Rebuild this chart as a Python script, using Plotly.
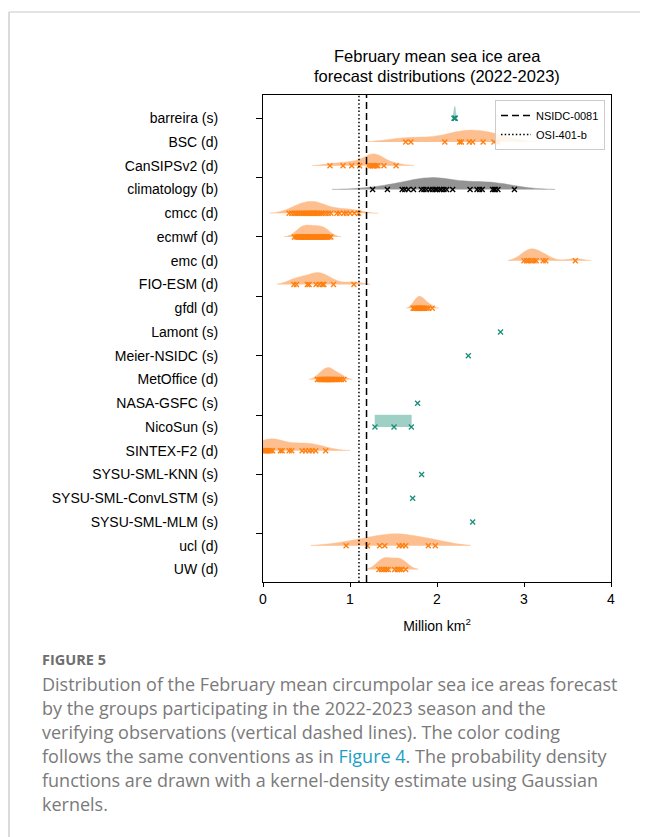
import plotly.graph_objects as go

# ---------------- data ----------------
models = ["barreira (s)", "BSC (d)", "CanSIPSv2 (d)", "climatology (b)", "cmcc (d)",
          "ecmwf (d)", "emc (d)", "FIO-ESM (d)", "gfdl (d)", "Lamont (s)",
          "Meier-NSIDC (s)", "MetOffice (d)", "NASA-GSFC (s)", "NicoSun (s)",
          "SINTEX-F2 (d)", "SYSU-SML-KNN (s)", "SYSU-SML-ConvLSTM (s)",
          "SYSU-SML-MLM (s)", "ucl (d)", "UW (d)"]

barreira = [2.195, 2.205, 2.21]
bsc = [1.64, 1.70, 2.09, 2.26, 2.28, 2.37, 2.41, 2.53, 2.655, 2.70]
cansips = [0.77, 0.92, 1.02, 1.11, 1.21, 1.24, 1.26, 1.27, 1.28, 1.30, 1.32, 1.39, 1.53]
climatology = [1.26, 1.43, 1.60, 1.63, 1.67, 1.73, 1.82, 1.85, 1.88, 1.92, 1.95, 1.98,
               2.00, 2.03, 2.05, 2.08, 2.11, 2.18, 2.38, 2.46, 2.49, 2.52, 2.64, 2.66,
               2.67, 2.70, 2.89]
cmcc = [0.30, 0.33, 0.36, 0.38, 0.40, 0.42, 0.44, 0.46, 0.48, 0.50, 0.51, 0.53, 0.54,
        0.56, 0.57, 0.58, 0.59, 0.60, 0.62, 0.63, 0.65, 0.67, 0.69, 0.72, 0.75, 0.78,
        0.85, 0.88, 0.93, 0.96, 1.00, 1.05, 1.10]
ecmwf = [0.36, 0.38, 0.40, 0.41, 0.42, 0.43, 0.44, 0.45, 0.46, 0.47, 0.48, 0.48, 0.49,
         0.50, 0.51, 0.52, 0.53, 0.54, 0.55, 0.56, 0.57, 0.58, 0.59, 0.60, 0.61, 0.62,
         0.63, 0.64, 0.65, 0.66, 0.67, 0.68, 0.69, 0.70, 0.71, 0.72, 0.73, 0.74, 0.76, 0.78]
emc = [3.00, 3.03, 3.055, 3.085, 3.115, 3.14, 3.22, 3.25, 3.59]
fio_esm = [0.355, 0.385, 0.51, 0.53, 0.61, 0.645, 0.68, 0.70, 0.81, 1.045]
gfdl = [1.725, 1.74, 1.755, 1.77, 1.78, 1.79, 1.80, 1.81, 1.82, 1.83, 1.845, 1.86,
        1.88, 1.905, 1.945]
lamont = [2.73]
meier_nsidc = [2.36]
metoffice = [0.625, 0.645, 0.665, 0.68, 0.695, 0.71, 0.72, 0.73, 0.74, 0.75, 0.76,
             0.77, 0.78, 0.79, 0.80, 0.82, 0.84, 0.86, 0.88, 0.90, 0.93]
nasa_gsfc = [1.777]
nicosun = [1.287, 1.506, 1.705]
sintex_f2 = [0.01, 0.02, 0.03, 0.04, 0.05, 0.07, 0.09, 0.11, 0.20, 0.22, 0.30, 0.33,
             0.45, 0.49, 0.53, 0.565, 0.605, 0.72]
sysu_knn = [1.823]
sysu_convlstm = [1.72]
sysu_mlm = [2.41]
ucl = [0.955, 1.20, 1.34, 1.40, 1.565, 1.60, 1.64, 1.90, 1.98]
uw = [1.333, 1.363, 1.39, 1.417, 1.44, 1.513, 1.544, 1.571, 1.594, 1.64]

values = [barreira, bsc, cansips, climatology, cmcc, ecmwf, emc, fio_esm, gfdl, lamont,
          meier_nsidc, metoffice, nasa_gsfc, nicosun, sintex_f2, sysu_knn,
          sysu_convlstm, sysu_mlm, ucl, uw]

obs_names = ["NSIDC-0081", "OSI-401-b"]
obs_values = [1.19, 1.103]

x_ticks = [0, 1, 2, 3, 4]

# ---------------- styles ----------------
FILL = {"s": "#9fd0c6", "d": "#fdbf8f", "b": "#939393"}
MARK = {"s": "#1a8c7d", "d": "#ff7f0e", "b": "#000000"}
CHART_FONT = "Liberation Sans, Arial, sans-serif"

OFF = 8                      # page body margin
W, H = 648 - OFF, 837 - OFF
PL, PR, PT, PB = 263, 611, 95, 582     # plot box in window pixels
n = len(models)
pos = [n - 1 - i for i in range(n)]          # barreira at top
YR = [-0.53, n - 1 + 0.98]


def pxx(xp):
    return (xp - PL) / (PR - PL)


def pyy(yp):
    return (PB - yp) / (PB - PT)


fig = go.Figure()

for name, vals, p in zip(models, values, pos):
    kind = name[-2]
    if len(vals) > 1:
        extra = {}
        if name.startswith("NicoSun"):
            extra = dict(bandwidth=5, spanmode="hard")
        fig.add_trace(go.Violin(
            x=vals, y0=p, orientation="h", side="positive", width=1.0,
            fillcolor=FILL[kind], line=dict(color=FILL[kind], width=0.5),
            points="all", jitter=0, pointpos=0, opacity=1,
            marker=dict(symbol="x-thin", size=5, color=MARK[kind],
                        line=dict(color=MARK[kind], width=1.3)),
            box_visible=False, meanline_visible=False, showlegend=False,
            hoverinfo="x", **extra))
    else:
        fig.add_trace(go.Scatter(
            x=vals, y=[p] * len(vals), mode="markers", showlegend=False,
            marker=dict(symbol="x-thin", size=5, color=MARK[kind],
                        line=dict(color=MARK[kind], width=1.3))))

dashes = ["7px,4px", "1.5px,2.2px"]
for nm, v, d in zip(obs_names, obs_values, dashes):
    fig.add_shape(type="line", xref="x", yref="paper", x0=v, x1=v, y0=0, y1=1,
                  line=dict(color="black", width=1.5, dash=d))
    fig.add_trace(go.Scatter(x=[None], y=[None], mode="lines", name=nm,
                             line=dict(color="black", width=1.5, dash=d)))

# tick-only overlay axis (ticks every 2.5 rows)
fig.add_trace(go.Scatter(x=[None], y=[None], yaxis="y2", showlegend=False))

fig.update_layout(
    width=W, height=H,
    margin=dict(l=PL - OFF, r=648 - PR, t=PT - OFF, b=837 - PB),
    paper_bgcolor="white", plot_bgcolor="white",
    violinmode="overlay",
    font=dict(family=CHART_FONT, size=14, color="black"),
    xaxis=dict(range=[0, 4], tickvals=x_ticks, ticks="outside", ticklen=4,
               tickwidth=1, tickcolor="black", showline=True, linecolor="black",
               linewidth=1, mirror=True, showgrid=False, zeroline=False,
               tickfont=dict(size=14),
               title=dict(text="Million km<sup>2</sup>", font=dict(size=14), standoff=15)),
    yaxis=dict(range=YR, tickvals=pos, ticktext=models, ticks="outside", ticklen=41,
               tickcolor="rgba(0,0,0,0)", showline=True, linecolor="black",
               linewidth=1, mirror=True, showgrid=False, zeroline=False,
               tickfont=dict(size=14)),
    yaxis2=dict(range=YR, overlaying="y", side="left",
                tickvals=[pos[0] - 2.5 * k for k in range(8)], ticks="outside",
                ticklen=6, tickcolor="black", showticklabels=False, showgrid=False,
                zeroline=False, showline=False),
    legend=dict(x=pxx(605), y=pyy(100), xanchor="right", yanchor="top",
                bgcolor="rgba(255,255,255,0.85)", bordercolor="#cccccc",
                borderwidth=1, font=dict(size=11), tracegroupgap=0,
                itemwidth=30),
)

# title
fig.add_annotation(text="February mean sea ice area", xref="paper", yref="paper",
                   x=0.5, y=pyy(56), showarrow=False, font=dict(size=16.5),
                   xanchor="center", yanchor="middle")
fig.add_annotation(text="forecast distributions (2022-2023)", xref="paper", yref="paper",
                   x=0.5, y=pyy(76), showarrow=False, font=dict(size=16.5),
                   xanchor="center", yanchor="middle")

# card border
fig.add_shape(type="line", xref="paper", yref="paper", x0=pxx(9), x1=pxx(648),
              y0=pyy(12), y1=pyy(12), line=dict(color="#e3e3e3", width=2))
fig.add_shape(type="line", xref="paper", yref="paper", x0=pxx(9), x1=pxx(9),
              y0=pyy(12), y1=pyy(837), line=dict(color="#cfcfcf", width=1.5))

# caption
CAP_FONT = "Open Sans, sans-serif"
CAP_COL = "#7a7a7a"
fig.add_annotation(text="<b>FIGURE 5</b>", xref="paper", yref="paper", x=pxx(40),
                   y=pyy(659), showarrow=False, xanchor="left", yanchor="middle",
                   font=dict(family=CAP_FONT, size=14.5, color="#6e6e6e"))
caption_lines = [
    "Distribution of the February mean circumpolar sea ice areas forecast",
    "by the groups participating in the 2022-2023 season and the",
    "verifying observations (vertical dashed lines). The color coding",
    "follows the same conventions as in <span style='color:#1aa0c4'>Figure 4</span>. The probability density",
    "functions are drawn with a kernel-density estimate using Gaussian",
    "kernels.",
]
for k, line in enumerate(caption_lines):
    fig.add_annotation(text=line, xref="paper", yref="paper", x=pxx(40),
                       y=pyy(684 + 24 * k), showarrow=False, xanchor="left",
                       yanchor="middle",
                       font=dict(family=CAP_FONT, size=18, color=CAP_COL))

fig.write_html("out.html")
